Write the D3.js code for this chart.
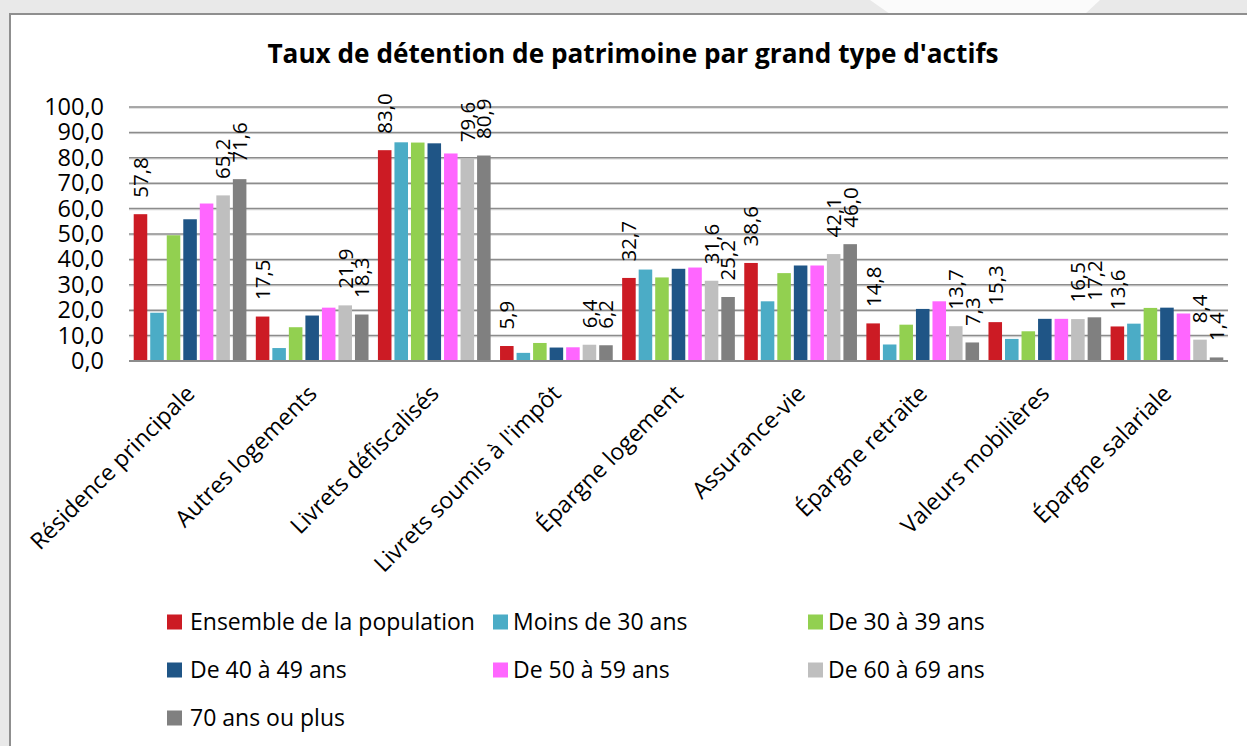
<!DOCTYPE html>
<html><head><meta charset="utf-8">
<script src="https://cdn.jsdelivr.net/npm/d3@7"></script>
<style>
html,body{margin:0;padding:0;background:#fff;}
svg{display:block;font-family:"Open Sans", sans-serif;}
</style></head>
<body>
<svg id="chart" width="1247" height="746"></svg>
<script>
const categories = ["Résidence principale","Autres logements","Livrets défiscalisés","Livrets soumis à l'impôt","Épargne  logement","Assurance-vie","Épargne retraite","Valeurs mobilières","Épargne salariale"];
const seriesNames = ["Ensemble de la population","Moins de 30 ans","De 30 à 39 ans","De 40 à 49 ans","De 50 à 59 ans","De 60 à 69 ans","70 ans ou plus"];
const seriesColors = ["#cc1b24","#4bacc6","#92d050","#1f5586","#ff66ff","#bfbfbf","#808080"];
const ensemble = [57.8,17.5,83.0,5.9,32.7,38.6,14.8,15.3,13.6];
const moins30  = [19.0,5.1,86.1,3.2,36.0,23.5,6.5,8.7,14.7];
const de30a39  = [49.5,13.3,86.0,7.1,32.9,34.6,14.3,11.7,20.9];
const de40a49  = [55.8,17.9,85.7,5.3,36.3,37.6,20.5,16.6,21.0];
const de50a59  = [62.0,21.0,81.7,5.4,36.8,37.6,23.5,16.6,18.7];
const de60a69  = [65.2,21.9,79.6,6.4,31.6,42.1,13.7,16.5,8.4];
const plus70   = [71.6,18.3,80.9,6.2,25.2,46.0,7.3,17.2,1.4];
const seriesValues = [ensemble,moins30,de30a39,de40a49,de50a59,de60a69,plus70];
const labelledSeries = ["Ensemble de la population","De 60 à 69 ans","70 ans ou plus"];
const yTicks = [0,10,20,30,40,50,60,70,80,90,100];
const chartTitle = "Taux de détention de patrimoine par grand type d'actifs";

const fr = d3.formatLocale({decimal:",",thousands:" ",grouping:[3],currency:["","€"]});
const fmt = fr.format(".1f");

const svg = d3.select("#chart");

// background outside frame
svg.append("rect").attr("x",0).attr("y",0).attr("width",1247).attr("height",746).attr("fill","#e9e9e9");
svg.append("polygon").attr("points","870,0 1100,0 1085,14 890,14").attr("fill","#fbfbfb");
svg.append("rect").attr("x",10).attr("y",14).attr("width",1250).attr("height",740)
  .attr("fill","#fff").attr("stroke","#8f8f8f").attr("stroke-width",2);

const pLeft = 129, pRight = 1228, pTop = 107, pBottom = 361;
const x0 = d3.scaleBand().domain(categories).range([pLeft,pRight]).paddingInner(0.077).paddingOuter(0.0385);
const x1 = d3.scaleBand().domain(seriesNames).range([0,x0.bandwidth()]).paddingInner(0.18).paddingOuter(0);
const y = d3.scaleLinear().domain([0,100]).range([pBottom,pTop]);

// title
svg.append("text").attr("x",633).attr("y",63).attr("text-anchor","middle")
  .attr("font-size",26.2).attr("font-weight","bold").attr("fill","#000").text(chartTitle);

// gridlines
const grid = svg.append("g");
yTicks.filter(t=>t>0).forEach(t=>{
  grid.append("line").attr("x1",pLeft).attr("x2",pRight).attr("y1",y(t)+1.2).attr("y2",y(t)+1.2)
    .attr("stroke","#d6d6d6").attr("stroke-width",1);
  grid.append("line").attr("x1",pLeft).attr("x2",pRight).attr("y1",y(t)).attr("y2",y(t))
    .attr("stroke","#8c8c8c").attr("stroke-width",1.5);
});

// y axis labels
const yAxis = d3.axisLeft(y).tickValues(yTicks).tickFormat(fmt).tickSize(0).tickPadding(0);
const ga = svg.append("g").attr("transform",`translate(104,0)`).call(yAxis);
ga.select(".domain").remove();
ga.selectAll("text").attr("font-size",23.5).attr("fill","#000").attr("font-family","Open Sans");

// bars
const groups = svg.append("g").selectAll("g").data(categories).join("g")
  .attr("transform",d=>`translate(${x0(d)},0)`);
groups.selectAll("rect").data((c,ci)=>seriesNames.map((s,si)=>({s,si,v:seriesValues[si][ci]})))
  .join("rect")
  .attr("x",d=>x1(d.s)).attr("width",x1.bandwidth())
  .attr("y",d=>y(d.v)).attr("height",d=>y(0)-y(d.v))
  .attr("fill",d=>seriesColors[d.si]);

// data labels
groups.selectAll("text.lbl").data((c,ci)=>seriesNames.map((s,si)=>({s,si,v:seriesValues[si][ci]})).filter(d=>labelledSeries.includes(d.s)))
  .join("text").attr("class","lbl")
  .attr("transform",d=>`translate(${x1(d.s)+x1.bandwidth()/2},${y(d.v)-16.5}) rotate(-90)`)
  .attr("dy","0.36em").attr("font-size",20.5).attr("fill","#000").text(d=>fmt(d.v));

// baseline
svg.append("line").attr("x1",pLeft).attr("x2",pRight).attr("y1",y(0)).attr("y2",y(0))
  .attr("stroke","#8c8c8c").attr("stroke-width",2);

// x labels
const xAxis = d3.axisBottom(x0).tickSize(0).tickPadding(0);
const gx = svg.append("g").attr("transform",`translate(0,${pBottom})`).call(xAxis);
gx.select(".domain").remove();
gx.selectAll("text").attr("font-size",23).attr("fill","#000").attr("font-family","Open Sans")
  .attr("text-anchor","end").attr("dy",null)
  .attr("transform","translate(6,34) rotate(-45)");

// legend
const legCols = [167,493,808], legRows = [622,670,718], legTextGap = [23,20,20];
const leg = svg.append("g").selectAll("g").data(seriesNames).join("g")
  .attr("transform",(d,i)=>`translate(${legCols[i%3]},${legRows[Math.floor(i/3)]})`);
leg.append("rect").attr("x",0).attr("y",-7.5).attr("width",15).attr("height",15).attr("fill",(d,i)=>seriesColors[i]);
leg.append("text").attr("x",(d,i)=>legTextGap[i%3]).attr("y",0).attr("dy","0.35em").attr("font-size",23).attr("fill","#000").text(d=>d);
</script>
</body></html>
